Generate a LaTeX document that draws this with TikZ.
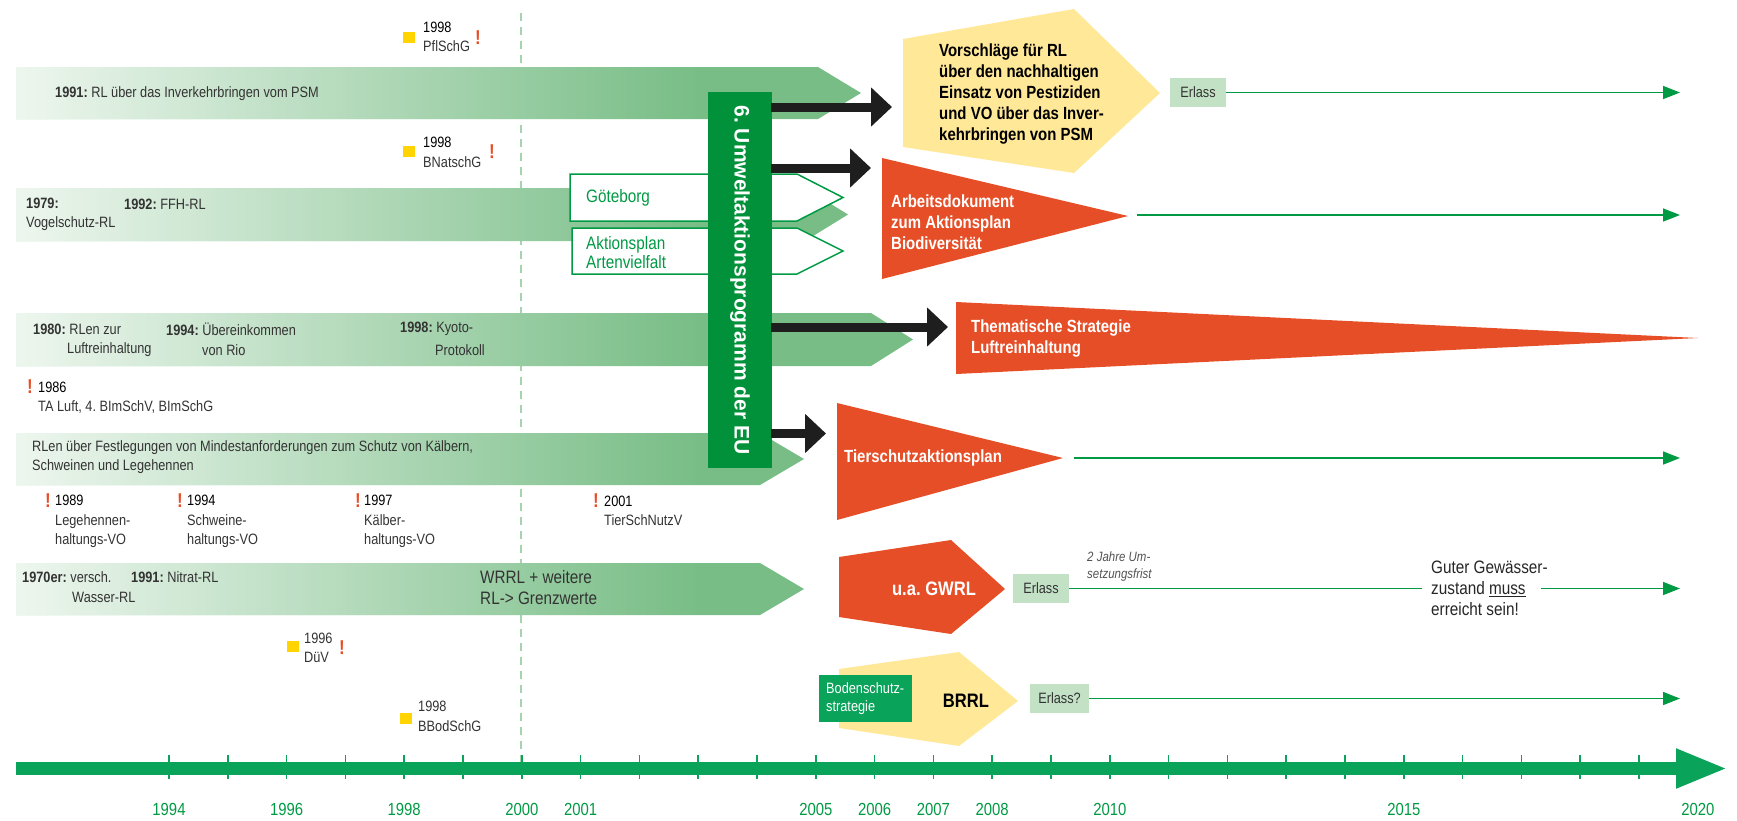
\documentclass[tikz,border=0pt]{standalone}
\usepackage{fontspec}
\setmainfont{Liberation Sans}[FakeStretch=0.85]
\newfontfamily\widefont{Liberation Sans}
\usetikzlibrary{arrows.meta}
\frenchspacing
\newcommand\fsz[2]{\fontsize{#1}{#2}\selectfont}
\definecolor{bandR}{HTML}{78BD86}
\definecolor{bandL}{HTML}{EDF6EE}
\definecolor{dgreen}{HTML}{00913A}
\definecolor{lgreen}{HTML}{009A44}
\definecolor{axisg}{HTML}{0AA35A}
\definecolor{redo}{HTML}{E64E27}
\definecolor{yel}{HTML}{FFE898}
\definecolor{ysqc}{HTML}{FFD400}
\definecolor{erlc}{HTML}{C3E1C5}
\definecolor{txt}{HTML}{333333}
\definecolor{dashc}{HTML}{A5D4AE}
\definecolor{blk}{HTML}{1E1E1E}
\newcommand\bandgrad[2]{%
  \foreach \i in {0,...,136} {%
    \pgfmathsetmacro\pp{100*\i/136}%
    \fill[bandR!\pp!bandL] ({16+\i*5},#1) rectangle ({16+\i*5+5.6},#2);%
  }%
}
\begin{document}
\frenchspacing
\begin{tikzpicture}[x=1pt,y=-1pt,
  lbl/.style={inner sep=0pt, anchor=west, align=left, text=txt, font=\fsz{15}{19.5}},
  big/.style={inner sep=0pt, anchor=west, align=left, text=txt, font=\fsz{18}{21}},
  bw/.style={inner sep=0pt, anchor=west, align=left, text=white, font=\bfseries\fsz{17.6}{21}},
  excl/.style={inner sep=0pt, text=redo, font=\bfseries\fsz{20}{20}},
  ysq/.style={fill=ysqc, draw=none, minimum width=12pt, minimum height=11pt, inner sep=0pt},
  erl/.style={fill=erlc, text=txt, font=\fsz{15}{15}, minimum width=56pt, minimum height=29pt, inner sep=0pt},
  garrow/.style={draw=lgreen, line width=1.6pt, -{Triangle[length=17pt,width=13pt]}},
  gline/.style={draw=lgreen, line width=1.6pt},
  barrow/.style={draw=blk, line width=9pt, -{Triangle[length=21pt,width=38pt]}},
  yr/.style={text=lgreen, font=\fsz{17.5}{17.5}, inner sep=0pt},
  outl/.style={fill=white, draw=lgreen, line width=1.5pt},
]
\useasboundingbox (0,0) rectangle (1737,820);

% dashed 2000 line
\draw[dashc, line width=2pt, dash pattern=on 8pt off 6pt] (521,13) -- (521,762);

% bands
\fill[bandR] (16,67) -- (818,67) -- (861,93) -- (818,119) -- (16,119) -- cycle;
\bandgrad{67}{119}
\fill[bandR] (16,188) -- (805,188) -- (848,214.5) -- (805,241) -- (16,241) -- cycle;
\bandgrad{188}{241}
\fill[bandR] (16,313) -- (871,313) -- (913,339.5) -- (871,366) -- (16,366) -- cycle;
\bandgrad{313}{366}
\fill[bandR] (16,433) -- (760,433) -- (804,459) -- (760,485) -- (16,485) -- cycle;
\bandgrad{433}{485}
\fill[bandR] (16,563) -- (760,563) -- (804,589) -- (760,615) -- (16,615) -- cycle;
\bandgrad{563}{615}

% outlined boxes
\draw[outl] (570,174) -- (797,174) -- (843,197.5) -- (797,221) -- (570,221) -- cycle;
\draw[outl] (572,228) -- (797,228) -- (843,251) -- (797,274) -- (572,274) -- cycle;
\node[big, text=lgreen] (gb) at (586,198) {Göteborg};
\node[big, text=lgreen, font=\fsz{18}{19}] (ap) at (586,252.5) {Aktionsplan\\Artenvielfalt};

% yellow pentagon 1
\fill[yel] (903,39) -- (1074,9) -- (1160,93) -- (1074,173) -- (903,147) -- cycle;
\coordinate (y1tip) at (1160,93);
\node[bw, text=black] (y1t) at (939,94) {Vorschläge für RL\\über den nachhaltigen\\Einsatz von Pestiziden\\und VO über das Inver-\\kehrbringen von PSM};

% red triangles
\fill[redo] (882,158) -- (1128,216) -- (882,279) -- cycle;
\coordinate (r1tip) at (1128,215);
\node[bw] (r1t) at (891,222.5) {Arbeitsdokument\\zum Aktionsplan\\Biodiversität};

\fill[redo] (956,302) -- (1698,338) -- (956,374) -- cycle;
\node[bw] (r2t) at (971,338.5) {Thematische Strategie\\Luftreinhaltung};

\fill[redo] (837,403) -- (1063,458) -- (837,520) -- cycle;
\coordinate (r3tip) at (1063,458);
\node[bw] (r3t) at (844,458) {Tierschutzaktionsplan};

% red pentagon GWRL
\fill[redo] (839,557) -- (951,540) -- (1005,589) -- (951,634) -- (839,617) -- cycle;
\node[inner sep=0pt, text=white, font=\bfseries\fsz{19.5}{19.5}] (gw) at (934,589) {u.a. GWRL};

% yellow pentagon BRRL
\fill[yel] (839,669) -- (959,652) -- (1018,701) -- (959,746) -- (839,728) -- cycle;
\node[inner sep=0pt, text=black, font=\bfseries\fsz{19.5}{19.5}] (br) at (966,701) {BRRL};
\node[fill=axisg, text=white, anchor=north west, minimum width=93pt, minimum height=47pt, inner sep=0pt, inner xsep=7pt, align=left, font=\fsz{15}{18}, text width=79pt] (bs) at (819,675) {Bodenschutz-\\strategie};

% Umweltaktionsprogramm box
\node[rotate=-90, fill=dgreen, minimum width=376pt, minimum height=64pt, inner sep=0pt, text=white, font=\widefont\bfseries\fsz{21}{21}] (uap) at (740,280) {6. Umweltaktionsprogramm der EU};

% black arrows
\coordinate (a1) at (892,107);
\coordinate (a2) at (871,168);
\coordinate (a3) at (948,327);
\coordinate (a4) at (826,433.5);
\draw[barrow] ([xshift=-1pt]uap.north |- a1) -- (a1);
\draw[barrow] ([xshift=-1pt]uap.north |- a2) -- (a2);
\draw[barrow] ([xshift=-1pt]uap.north |- a3) -- (a3);
\draw[barrow] ([xshift=-1pt]uap.north |- a4) -- (a4);

% Erlass boxes and green lines
\node[erl] (e1) at (1198,92.5) {Erlass};
\coordinate (e1end) at (1680,92.5);
\draw[garrow] (e1.east) -- (e1end);

\coordinate (r1end) at (1680,215);
\draw[garrow, shorten <=9pt] (r1tip) -- (r1end);

\coordinate (r3end) at (1680,458);
\draw[garrow, shorten <=11pt] (r3tip) -- (r3end);

\node[erl] (e2) at (1041,588.5) {Erlass};
\node[inner sep=0pt, anchor=west, align=left, text=txt!85, font=\itshape\fsz{13.5}{17.5}] (uj) at (1087,566.5) {2 Jahre Um-\\setzungsfrist};
\node[big, text=black!85] (gg) at (1431,588) {Guter Gewässer-\\zustand \underline{muss}\\erreicht sein!};
\coordinate (ggr) at (1541,588.5);
\coordinate (e2end) at (1680,588.5);
\draw[gline] (e2.east) -- ([xshift=-9pt]gg.west |- e2.east);
\draw[garrow] (ggr) -- (e2end);

\node[erl, minimum width=59pt] (e3) at (1059.5,698.5) {Erlass?};
\coordinate (e3end) at (1680,698.5);
\draw[garrow] (e3.east) -- (e3end);

% axis
\coordinate (ax0) at (16,768.5);
\coordinate (ax1) at (1728,768.5);
\draw[axisg, line width=13pt, -{Triangle[length=52pt,width=36pt]}] (ax0) -- (ax1);
\foreach \yy in {0,...,25} {
  \draw[axisg, line width=1.6pt] ({169+\yy*58.8},755) -- ({169+\yy*58.8},779);
}
\foreach \yy in {1994,1996,1998,2000,2001,2005,2006,2007,2008,2010,2015,2020} {
  \node[yr] (y\yy) at ({169+(\yy-1994)*58.8},809) {\yy};
}

% band texts
\node[lbl] (t1) at (55,94) {\textbf{1991:} RL über das Inverkehrbringen vom PSM};
\node[lbl] (t2) at (26,214.5) {\textbf{1979:}\\Vogelschutz-RL};
\node[lbl] (t3) at (124,204) {\textbf{1992:} FFH-RL};
\node[lbl] (t4) at (33,329) {\textbf{1980:} RLen zur};
\node[lbl] (t5) at (67,350) {Luftreinhaltung};
\node[lbl] (t6) at (166,329) {\textbf{1994:} Übereinkommen};
\node[lbl] (t7) at (202,350) {von Rio};
\node[lbl] (t8) at (400,329) {\textbf{1998:} Kyoto-};
\node[lbl] (t9) at (435,350) {Protokoll};
\node[lbl] (t10) at (32,457) {RLen über Festlegungen von Mindestanforderungen zum Schutz von Kälbern,\\Schweinen und Legehennen};
\node[lbl] (t11) at (22,577) {\textbf{1970er:} versch.};
\node[lbl] (t12) at (72,597) {Wasser-RL};
\node[lbl] (t13) at (131,577) {\textbf{1991:} Nitrat-RL};
\node[big] (t14) at (480,587.5) {WRRL + weitere\\RL-> Grenzwerte};

% markers (yellow squares)
\node[ysq] (m1) at (409,37.5) {};
\node[lbl] (m1t) at (423,37) {{\color{black}1998}\\PflSchG};
\node[excl] (m1x) at (478,38) {!};
\node[ysq] (m2) at (409,151.5) {};
\node[lbl] (m2t) at (423,152.5) {{\color{black}1998}\\BNatschG};
\node[excl] (m2x) at (492,152) {!};
\node[ysq] (m3) at (292.5,646.5) {};
\node[lbl] (m3t) at (304,648) {1996\\DüV};
\node[excl] (m3x) at (342,648) {!};
\node[ysq] (m4) at (406,718.5) {};
\node[lbl] (m4t) at (418,716.5) {1998\\BBodSchG};

% exclamation events
\node[excl] (x1) at (30,387) {!};
\node[lbl] (x1t) at (38,397.5) {{\color{black}1986}\\TA Luft, 4. BImSchV, BImSchG};
\node[excl] (x2) at (48,501) {!};
\node[lbl] (x2t) at (55,521.5) {{\color{black}1989}\\Legehennen-\\haltungs-VO};
\node[excl] (x3) at (180,501) {!};
\node[lbl] (x3t) at (187,521.5) {{\color{black}1994}\\Schweine-\\haltungs-VO};
\node[excl] (x4) at (358,501) {!};
\node[lbl] (x4t) at (364,521.5) {{\color{black}1997}\\Kälber-\\haltungs-VO};
\node[excl] (x5) at (596,501) {!};
\node[lbl] (x5t) at (604,511) {{\color{black}2001}\\TierSchNutzV};
\end{tikzpicture}
\end{document}
